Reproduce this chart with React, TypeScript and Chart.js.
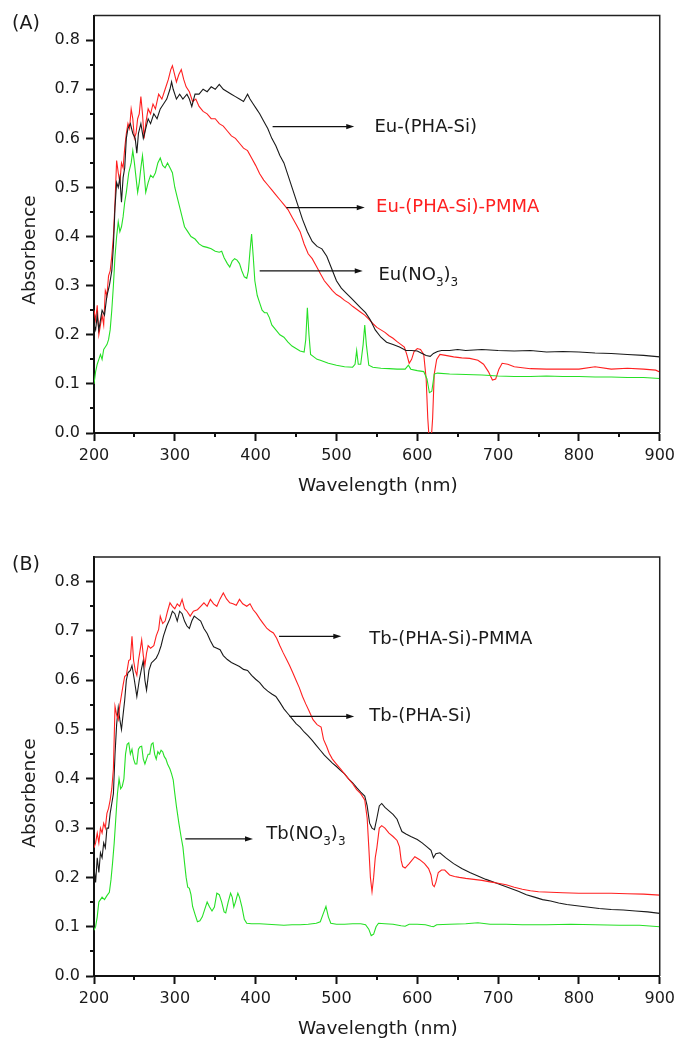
import React, { useEffect, useRef } from "react";
import { Chart, registerables } from "chart.js";

Chart.register(...registerables);

const FONT = "'DejaVu Sans', 'Liberation Sans', Arial, sans-serif";
const BLACK = "#1a1a1a";
const RED = "#ff2020";
const GREEN = "#26e026";

// ---------- axis ticks ----------
const xTickValues = [200, 300, 400, 500, 600, 700, 800, 900];
const xMinorTicks = [250, 350, 450, 550, 650, 750, 850];
const yTickValues = [0, 0.1, 0.2, 0.3, 0.4, 0.5, 0.6, 0.7, 0.8];
const yMinorTicks = [0.05, 0.15, 0.25, 0.35, 0.45, 0.55, 0.65, 0.75];

// ---------- Panel A : Eu ----------
const euComplexWl = [200,202,204,206,208,210,213,216,219,222,224,226,228,230,232,234,236,238,240,242,245,248,251,253,255,258,261,264,267,270,274,278,282,286,290,294,296,298,302,306,310,315,318,321,325,330,335,340,345,350,355,360,365,370,375,380,385,390,393,397,401,405,410,415,420,425,430,435,440,446,452,458,464,470,476,482,488,494,500,506,512,518,524,530,536,542,548,555,562,570,578,586,593,600,606,611,616,620,625,630,640,650,660,680,700,720,740,760,780,800,820,840,860,880,900];
const euComplexAbs = [0.22,0.21,0.24,0.21,0.23,0.25,0.24,0.28,0.30,0.33,0.38,0.46,0.51,0.50,0.52,0.47,0.52,0.54,0.60,0.62,0.63,0.61,0.60,0.57,0.61,0.63,0.60,0.62,0.64,0.63,0.65,0.64,0.66,0.67,0.68,0.70,0.715,0.70,0.68,0.69,0.68,0.69,0.68,0.665,0.69,0.69,0.70,0.695,0.705,0.70,0.71,0.70,0.695,0.69,0.685,0.68,0.675,0.69,0.68,0.67,0.66,0.65,0.635,0.62,0.60,0.585,0.565,0.55,0.525,0.495,0.465,0.435,0.41,0.39,0.38,0.375,0.36,0.335,0.31,0.295,0.285,0.275,0.265,0.255,0.245,0.23,0.21,0.195,0.185,0.18,0.175,0.168,0.168,0.167,0.162,0.158,0.156,0.162,0.166,0.168,0.168,0.17,0.168,0.17,0.168,0.167,0.168,0.165,0.166,0.165,0.163,0.162,0.16,0.158,0.155];

const euPmmaWl = [200,202,204,206,208,210,212,214,216,218,220,222,224,226,228,230,232,234,236,238,240,242,244,246,248,250,252,254,256,258,260,262,264,267,270,273,276,280,284,288,292,295,297,299,302,305,308,311,314,318,322,326,330,335,340,345,350,355,360,365,370,375,380,385,390,395,400,405,410,415,420,425,430,435,440,445,450,455,460,465,470,475,480,485,490,495,500,505,510,515,520,525,530,535,540,545,550,555,560,565,570,575,580,584,587,590,593,596,600,604,608,611,613,615,617,619,621,624,628,635,645,655,665,675,682,688,693,697,701,705,712,720,730,740,760,780,800,820,840,860,880,895,900];
const euPmmaAbs = [0.25,0.23,0.26,0.20,0.22,0.24,0.22,0.29,0.28,0.32,0.33,0.36,0.40,0.47,0.555,0.53,0.51,0.55,0.54,0.58,0.61,0.63,0.62,0.66,0.64,0.60,0.61,0.64,0.65,0.685,0.65,0.60,0.63,0.66,0.65,0.67,0.66,0.69,0.68,0.70,0.72,0.74,0.748,0.735,0.715,0.73,0.74,0.72,0.705,0.695,0.675,0.68,0.665,0.655,0.65,0.64,0.64,0.63,0.625,0.615,0.605,0.60,0.59,0.58,0.575,0.56,0.545,0.528,0.515,0.505,0.495,0.485,0.475,0.465,0.455,0.44,0.425,0.41,0.385,0.365,0.355,0.34,0.325,0.31,0.30,0.29,0.282,0.277,0.27,0.265,0.258,0.252,0.246,0.24,0.232,0.223,0.215,0.21,0.205,0.198,0.193,0.186,0.18,0.175,0.16,0.142,0.15,0.166,0.172,0.17,0.16,0.11,0.03,-0.02,-0.02,0.03,0.12,0.15,0.16,0.158,0.155,0.153,0.152,0.148,0.14,0.125,0.108,0.11,0.13,0.142,0.14,0.135,0.133,0.131,0.13,0.13,0.13,0.135,0.13,0.132,0.13,0.128,0.124];

const euNitrateWl = [200,202,204,206,208,210,212,214,216,218,220,222,224,226,228,230,232,234,236,238,240,243,246,248,250,252,254,256,258,260,262,264,267,270,273,276,279,282,285,288,291,294,297,300,303,306,309,312,316,320,325,330,335,340,345,350,355,358,361,365,368,371,374,377,380,383,386,389,391,393,395,397,399,402,405,408,411,414,417,420,425,430,435,440,445,450,455,460,462,464,466,468,472,476,480,485,490,495,500,510,520,523,525,527,530,533,535,537,540,545,555,565,575,585,589,592,600,608,612,615,618,621,625,640,660,680,700,720,740,760,780,800,820,840,860,880,900];
const euNitrateAbs = [0.10,0.125,0.14,0.15,0.16,0.15,0.17,0.175,0.18,0.19,0.21,0.25,0.30,0.36,0.40,0.43,0.41,0.42,0.44,0.47,0.49,0.53,0.55,0.575,0.55,0.52,0.49,0.51,0.54,0.565,0.53,0.49,0.51,0.525,0.52,0.53,0.55,0.56,0.545,0.54,0.55,0.54,0.53,0.50,0.48,0.46,0.44,0.42,0.41,0.40,0.395,0.385,0.38,0.378,0.375,0.37,0.368,0.37,0.357,0.345,0.338,0.35,0.355,0.352,0.345,0.33,0.318,0.315,0.33,0.37,0.405,0.36,0.31,0.28,0.265,0.25,0.245,0.245,0.235,0.22,0.21,0.20,0.195,0.185,0.177,0.172,0.167,0.165,0.19,0.255,0.20,0.16,0.155,0.15,0.148,0.145,0.142,0.14,0.138,0.135,0.134,0.14,0.168,0.14,0.14,0.18,0.22,0.18,0.138,0.134,0.132,0.131,0.13,0.13,0.138,0.13,0.127,0.125,0.11,0.082,0.085,0.12,0.122,0.12,0.119,0.118,0.116,0.115,0.115,0.116,0.115,0.115,0.114,0.114,0.113,0.113,0.111];

// ---------- Panel B : Tb ----------
const tbComplexWl = [200,202,204,206,208,210,212,214,216,218,220,222,224,226,228,230,232,234,236,238,240,242,245,247,250,253,256,259,261,263,265,268,271,274,277,280,283,286,290,294,297,300,303,306,309,312,315,318,321,324,328,332,336,340,344,348,352,356,360,365,370,375,380,385,390,395,400,405,410,415,420,425,430,435,440,445,450,455,460,465,470,475,480,485,490,495,500,505,510,515,520,525,530,535,538,541,544,547,550,553,556,560,565,570,575,578,581,586,592,600,606,612,617,620,623,628,635,645,655,665,675,685,695,705,715,725,735,745,755,765,775,785,795,810,825,840,855,870,885,900];
const tbComplexAbs = [0.22,0.19,0.24,0.21,0.25,0.24,0.27,0.26,0.30,0.30,0.33,0.35,0.37,0.45,0.51,0.545,0.52,0.50,0.53,0.56,0.60,0.615,0.62,0.63,0.60,0.567,0.60,0.625,0.64,0.60,0.58,0.62,0.635,0.64,0.645,0.655,0.67,0.69,0.71,0.725,0.74,0.735,0.72,0.74,0.735,0.72,0.71,0.705,0.72,0.73,0.725,0.72,0.705,0.695,0.68,0.668,0.665,0.662,0.65,0.642,0.636,0.632,0.628,0.622,0.62,0.61,0.602,0.595,0.585,0.578,0.572,0.567,0.555,0.542,0.532,0.522,0.512,0.505,0.495,0.487,0.478,0.468,0.458,0.448,0.44,0.432,0.425,0.417,0.41,0.40,0.392,0.382,0.373,0.365,0.345,0.31,0.30,0.297,0.32,0.345,0.35,0.342,0.335,0.328,0.318,0.305,0.293,0.288,0.283,0.277,0.27,0.262,0.255,0.24,0.248,0.25,0.24,0.228,0.218,0.21,0.203,0.196,0.19,0.184,0.178,0.172,0.165,0.16,0.155,0.152,0.148,0.145,0.143,0.14,0.137,0.135,0.134,0.132,0.13,0.127];

const tbPmmaWl = [200,202,204,206,208,210,212,214,216,218,220,222,224,226,228,230,232,234,236,238,240,243,245,247,249,251,253,255,257,259,261,263,265,267,270,274,277,280,282,285,288,291,294,297,300,303,306,309,312,315,319,323,328,332,336,340,344,348,352,356,360,364,368,372,376,380,384,389,393,397,401,405,409,414,418,422,426,430,434,438,442,446,450,454,458,462,466,471,476,481,484,488,491,495,500,505,510,515,520,525,530,535,538,540,542,544,546,548,550,553,556,560,565,570,575,578,580,582,585,590,597,603,609,614,617,619,621,623,626,630,634,640,646,652,660,670,680,690,700,710,720,730,740,750,765,780,800,820,840,860,880,900];
const tbPmmaAbs = [0.26,0.27,0.29,0.27,0.30,0.29,0.31,0.30,0.33,0.34,0.357,0.38,0.42,0.547,0.53,0.52,0.55,0.57,0.59,0.608,0.61,0.64,0.642,0.689,0.64,0.62,0.61,0.64,0.66,0.682,0.65,0.63,0.655,0.67,0.665,0.67,0.69,0.703,0.73,0.715,0.72,0.74,0.757,0.75,0.745,0.755,0.75,0.764,0.745,0.74,0.73,0.74,0.743,0.75,0.757,0.75,0.764,0.755,0.75,0.765,0.777,0.765,0.757,0.755,0.752,0.764,0.755,0.75,0.755,0.743,0.735,0.725,0.716,0.705,0.70,0.696,0.685,0.67,0.656,0.643,0.63,0.615,0.60,0.585,0.567,0.552,0.538,0.52,0.51,0.505,0.48,0.465,0.452,0.44,0.43,0.42,0.41,0.40,0.39,0.378,0.37,0.357,0.32,0.262,0.20,0.171,0.20,0.24,0.26,0.30,0.305,0.30,0.29,0.283,0.275,0.262,0.235,0.222,0.219,0.228,0.242,0.236,0.228,0.218,0.205,0.185,0.181,0.19,0.21,0.215,0.215,0.205,0.202,0.20,0.198,0.196,0.194,0.191,0.188,0.185,0.18,0.176,0.173,0.171,0.17,0.169,0.168,0.168,0.168,0.167,0.166,0.164];

const tbNitrateWl = [200,202,204,206,208,210,213,216,219,221,223,225,227,229,231,233,235,237,239,241,243,245,247,249,251,253,255,257,259,261,263,265,267,269,271,273,275,277,279,281,283,285,287,289,291,294,296,298,300,302,305,308,310,312,314,316,318,320,322,325,328,331,334,337,340,343,346,349,352,355,358,361,363,366,369,371,373,375,378,380,383,386,389,395,405,415,425,435,445,455,465,475,480,484,487,490,493,500,510,520,530,536,540,543,546,549,552,560,570,580,585,590,600,610,617,620,624,640,660,675,690,710,730,760,790,820,850,875,900];
const tbNitrateAbs = [0.093,0.10,0.12,0.15,0.155,0.16,0.155,0.163,0.17,0.195,0.23,0.27,0.32,0.37,0.40,0.38,0.385,0.40,0.45,0.47,0.473,0.45,0.46,0.44,0.43,0.43,0.46,0.465,0.466,0.44,0.43,0.44,0.45,0.45,0.47,0.473,0.45,0.44,0.455,0.45,0.458,0.455,0.445,0.44,0.43,0.42,0.41,0.398,0.37,0.344,0.31,0.28,0.262,0.23,0.20,0.18,0.178,0.165,0.141,0.125,0.11,0.112,0.12,0.135,0.15,0.14,0.132,0.14,0.168,0.165,0.15,0.13,0.128,0.15,0.168,0.16,0.14,0.15,0.168,0.16,0.14,0.115,0.107,0.106,0.106,0.105,0.104,0.103,0.104,0.104,0.105,0.107,0.11,0.128,0.141,0.12,0.107,0.105,0.105,0.106,0.106,0.104,0.095,0.082,0.085,0.10,0.107,0.106,0.105,0.102,0.101,0.105,0.105,0.104,0.101,0.10,0.104,0.105,0.106,0.108,0.105,0.105,0.104,0.104,0.105,0.104,0.103,0.103,0.10];

// ---------- annotations (arrow start / end in nm, level in absorbance) ----------
type Seg = { t: string; sub?: boolean };
type Note = { parts: Seg[]; color: string; from: number; to: number; at: number; textX: number; textY: number };

const notesA: Note[] = [
  { parts: [{ t: "Eu-(PHA-Si)" }], color: BLACK, from: 421, to: 522, at: 0.624, textX: 547, textY: 0.626 },
  { parts: [{ t: "Eu-(PHA-Si)-PMMA" }], color: RED, from: 438, to: 535, at: 0.459, textX: 549, textY: 0.4636 },
  { parts: [{ t: "Eu(NO" }, { t: "3", sub: true }, { t: ")" }, { t: "3", sub: true }], color: BLACK, from: 405, to: 532.5, at: 0.33, textX: 552, textY: 0.325 },
];
const notesB: Note[] = [
  { parts: [{ t: "Tb-(PHA-Si)-PMMA" }], color: BLACK, from: 429, to: 506, at: 0.689, textX: 540.7, textY: 0.686 },
  { parts: [{ t: "Tb-(PHA-Si)" }], color: BLACK, from: 442, to: 522, at: 0.5265, textX: 540.7, textY: 0.53 },
  { parts: [{ t: "Tb(NO" }, { t: "3", sub: true }, { t: ")" }, { t: "3", sub: true }], color: BLACK, from: 313, to: 396.7, at: 0.278, textX: 413, textY: 0.291 },
];

type Series = { wl: number[]; abs: number[]; color: string };

function makeDecor(panelLabel: string, labelY: number, notes: Note[]) {
  return {
    id: "decor",
    afterDraw(chart: any) {
      const { ctx, chartArea: a, scales } = chart;
      const x = scales.x;
      const y = scales.y;
      ctx.save();
      // frame top / right
      ctx.strokeStyle = "#222";
      ctx.lineWidth = 1.5;
      ctx.beginPath();
      ctx.moveTo(a.left, a.top);
      ctx.lineTo(a.right, a.top);
      ctx.lineTo(a.right, a.bottom);
      ctx.stroke();
      // minor ticks
      ctx.strokeStyle = "#111";
      ctx.lineWidth = 2;
      ctx.beginPath();
      xMinorTicks.forEach((v) => {
        const px = Math.round(x.getPixelForValue(v));
        ctx.moveTo(px, a.bottom);
        ctx.lineTo(px, a.bottom + 4);
      });
      yMinorTicks.forEach((v) => {
        const py = Math.round(y.getPixelForValue(v));
        ctx.moveTo(a.left - 4, py);
        ctx.lineTo(a.left, py);
      });
      ctx.stroke();

      ctx.fillStyle = "#1a1a1a";
      // x title
      ctx.font = `18.5px ${FONT}`;
      ctx.textAlign = "center";
      ctx.textBaseline = "alphabetic";
      ctx.fillText("Wavelength (nm)", (a.left + a.right) / 2 + 1, a.bottom + 58);
      // y title
      ctx.save();
      ctx.translate(35, a.bottom - 183);
      ctx.rotate(-Math.PI / 2);
      ctx.fillText("Absorbence", 0, 0);
      ctx.restore();
      // panel label
      ctx.font = `19px ${FONT}`;
      ctx.textAlign = "left";
      ctx.textBaseline = "middle";
      ctx.fillText(panelLabel, 12, labelY);

      // annotations
      notes.forEach((n) => {
        const x1 = x.getPixelForValue(n.from);
        const x2 = x.getPixelForValue(n.to);
        const py = y.getPixelForValue(n.at);
        ctx.strokeStyle = "#111";
        ctx.fillStyle = "#111";
        ctx.lineWidth = 1.2;
        ctx.beginPath();
        ctx.moveTo(x1, py);
        ctx.lineTo(x2 - 5, py);
        ctx.stroke();
        ctx.beginPath();
        ctx.moveTo(x2, py);
        ctx.lineTo(x2 - 8, py - 2.6);
        ctx.lineTo(x2 - 8, py + 2.6);
        ctx.closePath();
        ctx.fill();

        const size = 18;
        const base = y.getPixelForValue(n.textY) + size * 0.729 / 2;
        let tx = x.getPixelForValue(n.textX);
        ctx.fillStyle = n.color;
        ctx.textAlign = "left";
        ctx.textBaseline = "alphabetic";
        n.parts.forEach((p) => {
          if (p.sub) {
            ctx.font = `12px ${FONT}`;
            ctx.fillText(p.t, tx, base + 6);
          } else {
            ctx.font = `${size}px ${FONT}`;
            ctx.fillText(p.t, tx, base);
          }
          tx += ctx.measureText(p.t).width;
        });
      });
      ctx.restore();
    },
  };
}

function Panel(props: { series: Series[]; padTop: number; xHeight: number; label: string; labelY: number; notes: Note[] }) {
  const ref = useRef<HTMLCanvasElement | null>(null);
  useEffect(() => {
    if (!ref.current) return;
    const chart = new Chart(ref.current, {
      type: "line",
      data: {
        datasets: props.series.map((s) => ({
          data: s.wl.map((w, i) => ({ x: w, y: s.abs[i] })),
          borderColor: s.color,
          backgroundColor: s.color,
          borderWidth: 1.1,
          pointRadius: 0,
          tension: 0,
          fill: false,
        })),
      },
      options: {
        responsive: false,
        animation: false,
        devicePixelRatio: 1,
        layout: { padding: { top: props.padTop, right: 19, left: 0, bottom: 0 } },
        plugins: { legend: { display: false }, tooltip: { enabled: false }, title: { display: false } },
        scales: {
          x: {
            type: "linear",
            min: 200,
            max: 900,
            afterBuildTicks: (s: any) => {
              s.ticks = xTickValues.map((v) => ({ value: v }));
            },
            afterFit: (s: any) => {
              s.height = props.xHeight;
            },
            ticks: {
              autoSkip: false,
              maxRotation: 0,
              padding: 5,
              color: "#1a1a1a",
              font: { family: FONT, size: 16 },
              callback: (v: any) => String(v),
            },
            grid: { drawOnChartArea: false, drawTicks: true, tickLength: 8, tickWidth: 2, tickColor: "#111" },
            border: { display: true, width: 2, color: "#111" },
          },
          y: {
            type: "linear",
            min: 0,
            max: 0.85,
            afterBuildTicks: (s: any) => {
              s.ticks = yTickValues.map((v) => ({ value: v }));
            },
            afterFit: (s: any) => {
              s.width = 94;
            },
            ticks: {
              autoSkip: false,
              padding: 6,
              color: "#1a1a1a",
              font: { family: FONT, size: 16 },
              callback: (v: any) => Number(v).toFixed(1),
            },
            grid: { drawOnChartArea: false, drawTicks: true, tickLength: 8, tickWidth: 2, tickColor: "#111" },
            border: { display: true, width: 2, color: "#111" },
          },
        },
      } as any,
      plugins: [makeDecor(props.label, props.labelY, props.notes)],
    });
    return () => chart.destroy();
  }, []);
  return <canvas ref={ref} width={680} height={519} style={{ display: "block", width: 680, height: 519 }} />;
}

export default function App() {
  const seriesA: Series[] = [
    { wl: euNitrateWl, abs: euNitrateAbs, color: GREEN },
    { wl: euComplexWl, abs: euComplexAbs, color: BLACK },
    { wl: euPmmaWl, abs: euPmmaAbs, color: RED },
  ];
  const seriesB: Series[] = [
    { wl: tbNitrateWl, abs: tbNitrateAbs, color: GREEN },
    { wl: tbPmmaWl, abs: tbPmmaAbs, color: RED },
    { wl: tbComplexWl, abs: tbComplexAbs, color: BLACK },
  ];
  return (
    <div style={{ position: "absolute", left: 0, top: 0, width: 680, height: 1038, background: "#fff" }}>
      <Panel series={seriesA} padTop={14} xHeight={86} label="(A)" labelY={24} notes={notesA} />
      <Panel series={seriesB} padTop={38} xHeight={62} label="(B)" labelY={46} notes={notesB} />
    </div>
  );
}
